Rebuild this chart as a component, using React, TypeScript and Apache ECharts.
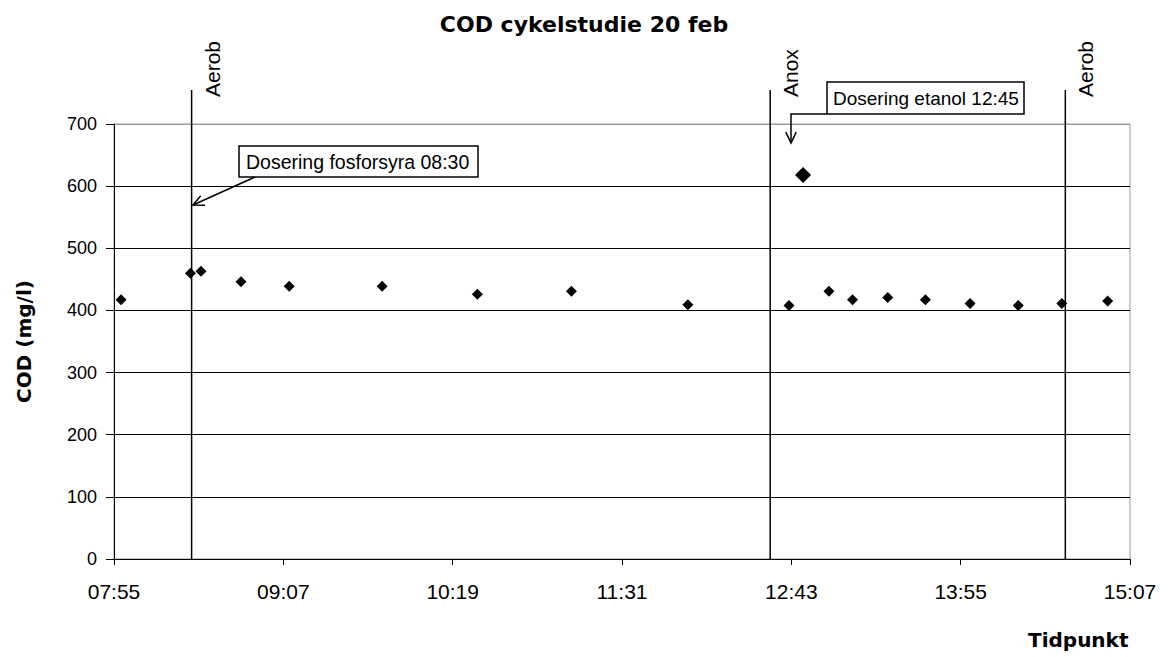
import React, { useEffect, useRef } from "react";
import * as echarts from "echarts";

// ---- data ----
const TITLE = "COD cykelstudie 20 feb";
const X_NAME = "Tidpunkt";
const Y_NAME = "COD (mg/l)";
const X_START = "07:55";
const X_END = "15:07";
const X_STEP_MIN = 72;
const Y_MIN = 0;
const Y_MAX = 700;
const Y_STEP = 100;

const sampleTimes = [
  "07:58", "08:27:30", "08:32", "08:49", "09:09:30", "09:49", "10:29:30", "11:09:30", "11:59",
  "12:42", "12:59", "13:09", "13:24", "13:40", "13:59", "14:19:30", "14:38", "14:57:30",
];
const sampleCOD = [417, 460, 463, 446, 439, 439, 426, 431, 409, 408, 431, 417, 421, 417, 411, 408, 411, 415];

const etanolTimes = ["12:48"];
const etanolCOD = [618];

const phaseTimes = ["08:28", "12:34", "14:39:30"];
const phaseLabels = ["Aerob", "Anox", "Aerob"];

const noteFosfor = "Dosering fosforsyra 08:30";
const noteEtanol = "Dosering etanol 12:45";

// ---- helpers ----
const toMin = (s: string) => {
  const p = s.split(":").map(Number);
  return p[0] * 60 + p[1] + (p[2] || 0) / 60;
};
const X0 = toMin(X_START);
const rel = (s: string) => toMin(s) - X0;
const fmt = (m: number) => {
  const t = Math.round(m);
  const h = Math.floor(t / 60);
  const mm = t % 60;
  return (h < 10 ? "0" : "") + h + ":" + (mm < 10 ? "0" : "") + mm;
};

const SANS = '"Liberation Sans", Arial, sans-serif';
const BOLD = '"DejaVu Sans", sans-serif';

function arrowHead(tipX: number, tipY: number, fromX: number, fromY: number, len = 12, ang = 0.45) {
  const a = Math.atan2(fromY - tipY, fromX - tipX);
  return [
    [tipX + len * Math.cos(a + ang), tipY + len * Math.sin(a + ang)],
    [tipX, tipY],
    [tipX + len * Math.cos(a - ang), tipY + len * Math.sin(a - ang)],
  ];
}

export default function App() {
  const ref = useRef<HTMLDivElement>(null);
  useEffect(() => {
    if (!ref.current) return;
    const chart = echarts.init(ref.current, undefined, { renderer: "svg" });
    const yTickCount = (Y_MAX - Y_MIN) / Y_STEP + 1;
    const splitColors = Array.from({ length: yTickCount }, (_, i) => (i === yTickCount - 1 ? "#9a9a9a" : "#000"));

    const a1From = [255, 177];
    const a1Tip = [193, 205];
    const a2Tip = [791, 143];

    chart.setOption({
      animation: false,
      backgroundColor: "#fff",
      title: {
        text: TITLE,
        left: "center",
        top: 8,
        textStyle: { fontFamily: BOLD, fontWeight: "bold", fontSize: 22, color: "#000" },
      },
      grid: {
        left: 114,
        right: 38,
        top: 124,
        bottom: 98,
        show: true,
        borderColor: "#9a9a9a",
        borderWidth: 1,
        backgroundColor: "transparent",
      },
      xAxis: {
        type: "value",
        min: 0,
        max: rel(X_END),
        interval: X_STEP_MIN,
        axisLine: { show: true, onZero: false, lineStyle: { color: "#000", width: 1 } },
        axisTick: { show: true, inside: false, length: 6, lineStyle: { color: "#000" } },
        axisLabel: {
          formatter: (v: number) => fmt(v + X0),
          fontFamily: SANS,
          fontSize: 21,
          color: "#000",
          margin: 22,
        },
        splitLine: { show: false },
      },
      yAxis: {
        type: "value",
        min: Y_MIN,
        max: Y_MAX,
        interval: Y_STEP,
        name: Y_NAME,
        nameLocation: "middle",
        nameGap: 80,
        nameRotate: 90,
        nameTextStyle: { fontFamily: BOLD, fontWeight: "bold", fontSize: 20, color: "#000" },
        axisLine: { show: true, lineStyle: { color: "#000", width: 1 } },
        axisTick: { show: true, inside: false, length: 8, lineStyle: { color: "#000" } },
        axisLabel: { fontFamily: SANS, fontSize: 18, color: "#000", margin: 17 },
        splitLine: { show: true, lineStyle: { color: splitColors, width: 1 } },
      },
      series: [
        {
          type: "custom",
          name: "phases",
          clip: false,
          z: 1,
          data: phaseTimes.map((t) => [rel(t), 0]),
          renderItem: (params: any, api: any) => {
            const x = api.value(0);
            const b = api.coord([x, Y_MIN]);
            const t = api.coord([x, Y_MAX]);
            const topY = t[1] - 34;
            return {
              type: "group",
              children: [
                {
                  type: "line",
                  shape: { x1: b[0], y1: b[1], x2: b[0], y2: topY },
                  style: { stroke: "#000", lineWidth: 1.5 },
                },
                {
                  type: "text",
                  x: b[0] + 10,
                  y: topY + 7,
                  rotation: Math.PI / 2,
                  style: {
                    text: phaseLabels[params.dataIndex],
                    font: "21px " + SANS,
                    fill: "#000",
                    align: "left",
                    verticalAlign: "top",
                  },
                },
              ],
            };
          },
        },
        {
          type: "scatter",
          name: "COD",
          z: 3,
          symbol: "diamond",
          symbolSize: 11,
          itemStyle: { color: "#000", opacity: 1 },
          data: sampleTimes.map((t, i) => [rel(t), sampleCOD[i]]),
        },
        {
          type: "scatter",
          name: "COD etanol",
          z: 3,
          symbol: "diamond",
          symbolSize: 16,
          itemStyle: { color: "#000", opacity: 1 },
          data: etanolTimes.map((t, i) => [rel(t), etanolCOD[i]]),
        },
      ],
      graphic: [
        {
          type: "text",
          left: 1028,
          top: 630,
          style: { text: X_NAME, font: "bold 20px " + BOLD, fill: "#000" },
        },
        {
          type: "rect",
          shape: { x: 239, y: 146, width: 239, height: 31 },
          style: { fill: "#fff", stroke: "#000", lineWidth: 1.5 },
          z: 10,
        },
        {
          type: "text",
          x: 246,
          y: 162,
          style: { text: noteFosfor, font: "19.5px " + SANS, fill: "#000", verticalAlign: "middle" },
          z: 11,
        },
        {
          type: "line",
          shape: { x1: a1From[0], y1: a1From[1], x2: a1Tip[0], y2: a1Tip[1] },
          style: { stroke: "#000", lineWidth: 1.5 },
          z: 10,
        },
        {
          type: "polyline",
          shape: { points: arrowHead(a1Tip[0], a1Tip[1], a1From[0], a1From[1]) },
          style: { stroke: "#000", lineWidth: 1.5, fill: "none" },
          z: 10,
        },
        {
          type: "rect",
          shape: { x: 827, y: 82, width: 197, height: 32 },
          style: { fill: "#fff", stroke: "#000", lineWidth: 1.5 },
          z: 10,
        },
        {
          type: "text",
          x: 833,
          y: 98.5,
          style: { text: noteEtanol, font: "19px " + SANS, fill: "#000", verticalAlign: "middle" },
          z: 11,
        },
        {
          type: "polyline",
          shape: { points: [[827, 114], [791, 114], [a2Tip[0], a2Tip[1]]] },
          style: { stroke: "#000", lineWidth: 1.5, fill: "none" },
          z: 10,
        },
        {
          type: "polyline",
          shape: { points: arrowHead(a2Tip[0], a2Tip[1], a2Tip[0], 114) },
          style: { stroke: "#000", lineWidth: 1.5, fill: "none" },
          z: 10,
        },
      ],
    });
    return () => chart.dispose();
  }, []);
  return (
    <div
      ref={ref}
      style={{ position: "absolute", left: 0, top: 0, width: 1168, height: 657, background: "#fff" }}
    />
  );
}
